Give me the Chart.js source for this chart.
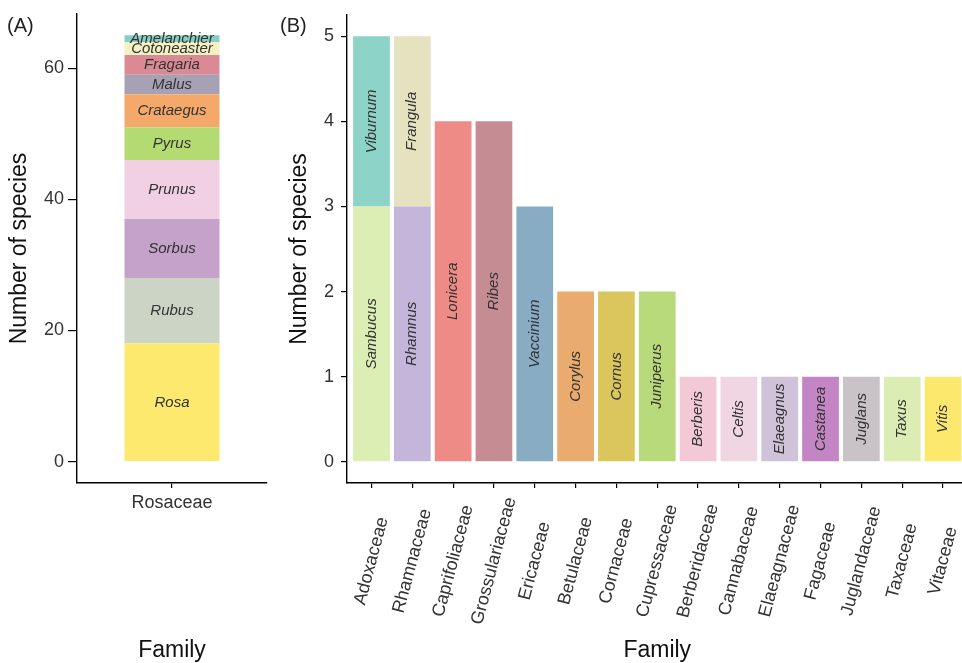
<!DOCTYPE html>
<html>
<head>
<meta charset="utf-8">
<script src="https://cdn.jsdelivr.net/npm/chart.js"></script>
<style>
  html, body { margin: 0; padding: 0; background: #fff; overflow: hidden; width: 962px; height: 663px; }
  #wrapA { position: absolute; left: 0; top: 0; }
  #wrapB { position: absolute; left: 278px; top: 0; }
  .panel { position: absolute; font: 20px "Liberation Sans", Arial, sans-serif; color: #222; }
</style>
</head>
<body>
<div id="wrapA"><canvas id="g_rosaceae" width="278" height="663"></canvas></div>
<div id="wrapB"><canvas id="g_others" width="700" height="663"></canvas></div>
<div class="panel" style="left:7px; top:14px;">(A)</div>
<div class="panel" style="left:280px; top:14px;">(B)</div>
<script>
// panel A : Rosaceae genera (bottom to top)
const familyA = ["Rosaceae"];
const generaA = ["Rosa", "Rubus", "Sorbus", "Prunus", "Pyrus", "Crataegus", "Malus", "Fragaria", "Cotoneaster", "Amelanchier"];
const countsA = [18, 10, 9, 9, 5, 5, 3, 3, 2, 1];
const colorsA = ["#fde96d", "#ccd4c6", "#c5a2c9", "#f0d0e2", "#b4db71", "#f4a96a", "#a7a1b6", "#d98a94", "#f3f1c3", "#86cfc4"];
const ticksA = [0, 20, 40, 60];

// panel B : other families
const familiesB = ["Adoxaceae", "Rhamnaceae", "Caprifoliaceae", "Grossulariaceae", "Ericaceae", "Betulaceae", "Cornaceae",
    "Cupressaceae", "Berberidaceae", "Cannabaceae", "Elaeagnaceae", "Fagaceae", "Juglandaceae", "Taxaceae", "Vitaceae"];
const generaB = ["Sambucus", "Viburnum", "Rhamnus", "Frangula", "Lonicera", "Ribes", "Vaccinium", "Corylus", "Cornus",
    "Juniperus", "Berberis", "Celtis", "Elaeagnus", "Castanea", "Juglans", "Taxus", "Vitis"];
const genusFamilyB = [0, 0, 1, 1, 2, 3, 4, 5, 6, 7, 8, 9, 10, 11, 12, 13, 14];
const countsB = [3, 2, 3, 2, 4, 4, 3, 2, 2, 2, 1, 1, 1, 1, 1, 1, 1];
const colorsB = ["#dbefb4", "#8dd3c7", "#c3b6da", "#e5e3bf", "#ee8b86", "#c68c94", "#88acc4", "#eaab6f", "#dbc65d",
    "#b9da7b", "#f3c9d7", "#f0d6e3", "#d0c2d8", "#c385c4", "#c9c3c7", "#dcedb3", "#fde86e"];
const ticksB = [0, 1, 2, 3, 4, 5];

const FONT = '"Liberation Sans", Arial, sans-serif';

//ecrit le nom du genre au milieu de chaque segment
const segmentLabels = {
    id: "segmentLabels",
    afterDatasetsDraw(chart, args, opts) {
        const ctx = chart.ctx;
        ctx.save();
        ctx.font = "italic 15px " + FONT;
        ctx.fillStyle = "#333";
        ctx.textAlign = "center";
        ctx.textBaseline = "middle";
        chart.data.datasets.forEach(function(ds, i) {
            chart.getDatasetMeta(i).data.forEach(function(bar) {
                const p = bar.getProps(["x", "y", "base"], true);
                ctx.save();
                ctx.translate(p.x, (p.y + p.base) / 2);
                ctx.rotate((opts.angle || 0) * Math.PI / 180);
                ctx.fillText(ds.label, 0, 0);
                ctx.restore();
            });
        });
        ctx.restore();
    }
};

//etiquettes de l'axe x centrees sous chaque tick (comme ggplot hjust = 0.5)
const familyLabels = {
    id: "familyLabels",
    afterDraw(chart, args, opts) {
        if (!opts.labels) return;
        const ctx = chart.ctx;
        const scale = chart.scales.x;
        ctx.save();
        ctx.font = "18px " + FONT;
        ctx.fillStyle = "#333";
        ctx.textAlign = "center";
        ctx.textBaseline = "middle";
        opts.labels.forEach(function(lab, i) {
            ctx.save();
            ctx.translate(scale.getPixelForValue(i), scale.top + opts.offset);
            ctx.rotate(opts.angle * Math.PI / 180);
            ctx.fillText(lab, 0, 0);
            ctx.restore();
        });
        ctx.restore();
    }
};

function axisBase(tickLen) {
    return {
        border: { display: true, color: "#000", width: 1.4 },
        grid: { drawOnChartArea: false, drawTicks: true, tickLength: tickLen, color: "#000", lineWidth: 1.2, offset: false }
    };
}

function rosaceae() {
    const ctx = document.getElementById("g_rosaceae").getContext("2d");
    const datasets = generaA.map(function(g, i) {
        return {
            label: g,
            data: [countsA[i]],
            backgroundColor: colorsA[i],
            borderWidth: 0,
            barPercentage: 0.5,
            categoryPercentage: 1
        };
    });
    const x = axisBase(5);
    Object.assign(x, {
        stacked: true,
        offset: true,
        ticks: { color: "#333", font: { family: FONT, size: 18 }, padding: 4, maxRotation: 0 },
        title: { display: true, text: "Family", color: "#111", font: { family: FONT, size: 23, lineHeight: 1 }, padding: { top: 0, bottom: 0.5 } },
        afterFit: function(s) { s.height = 180; }
    });
    const y = axisBase(9);
    Object.assign(y, {
        stacked: true,
        min: -3.25,
        max: 68.25,
        afterBuildTicks: function(s) { s.ticks = ticksA.map(function(v) { return { value: v }; }); },
        ticks: { color: "#333", font: { family: FONT, size: 18 }, padding: 4 },
        title: { display: true, text: "Number of species", color: "#111", font: { family: FONT, size: 23 }, padding: { top: 6, bottom: 0 } },
        afterFit: function(s) { s.width = 77; s.paddingTop = 0; s.paddingBottom = 0; }
    });
    new Chart(ctx, {
        type: "bar",
        data: { labels: familyA, datasets: datasets },
        options: {
            responsive: false,
            animation: false,
            layout: { padding: { left: 0, right: 11, top: 14, bottom: 0 } },
            plugins: { legend: { display: false }, tooltip: { enabled: false }, segmentLabels: { angle: 0 } },
            scales: { x: x, y: y }
        },
        plugins: [segmentLabels]
    });
}

function others() {
    const ctx = document.getElementById("g_others").getContext("2d");
    const datasets = generaB.map(function(g, i) {
        return {
            label: g,
            data: [{ x: genusFamilyB[i], y: countsB[i] }],
            backgroundColor: colorsB[i],
            borderWidth: 0,
            barPercentage: 0.9,
            categoryPercentage: 1
        };
    });
    const x = axisBase(5);
    Object.assign(x, {
        type: "linear",
        stacked: true,
        offset: false,
        min: -0.6,
        max: 14.6,
        afterBuildTicks: function(s) { s.ticks = familiesB.map(function(f, i) { return { value: i }; }); },
        ticks: { display: false },
        title: { display: true, text: "Family", color: "#111", font: { family: FONT, size: 23, lineHeight: 1 }, padding: { top: 0, bottom: 0.5 } },
        afterFit: function(s) { s.height = 180; }
    });
    const y = axisBase(6);
    Object.assign(y, {
        stacked: true,
        min: -0.25,
        max: 5.25,
        afterBuildTicks: function(s) { s.ticks = ticksB.map(function(v) { return { value: v }; }); },
        ticks: { color: "#333", font: { family: FONT, size: 18 }, padding: 7 },
        title: { display: true, text: "Number of species", color: "#111", font: { family: FONT, size: 23 }, padding: { top: 8, bottom: 0 } },
        afterFit: function(s) { s.width = 69; s.paddingTop = 0; s.paddingBottom = 0; }
    });
    new Chart(ctx, {
        type: "bar",
        data: { datasets: datasets },
        options: {
            responsive: false,
            animation: false,
            layout: { padding: { left: 0, right: 10.5, top: 15, bottom: 0 } },
            plugins: {
                legend: { display: false },
                tooltip: { enabled: false },
                segmentLabels: { angle: -90 },
                familyLabels: { labels: familiesB, angle: -75, offset: 78 }
            },
            scales: { x: x, y: y }
        },
        plugins: [segmentLabels, familyLabels]
    });
}

window.addEventListener("load", function() {
    rosaceae();
    others();
});
</script>
</body>
</html>
